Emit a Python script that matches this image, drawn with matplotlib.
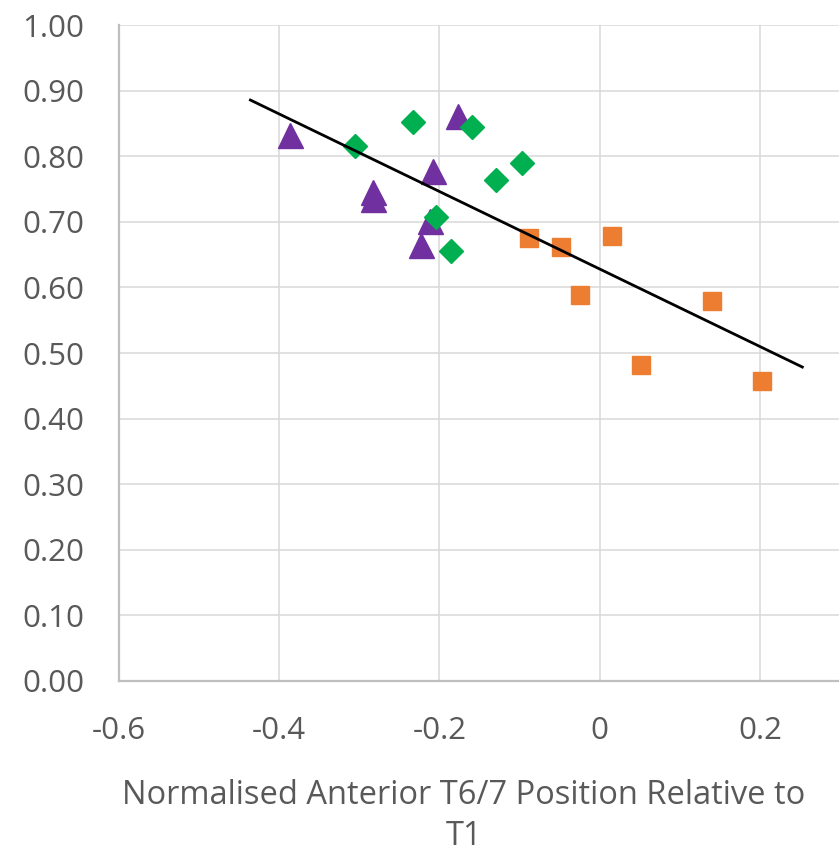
import numpy as np
import matplotlib
matplotlib.use("Agg")
import matplotlib.pyplot as plt
from matplotlib.ticker import FuncFormatter

# Data
tri_x = [-0.386, -0.177, -0.208, -0.283, -0.283, -0.212, -0.223]
tri_y = [0.832, 0.861, 0.777, 0.746, 0.734, 0.701, 0.664]

dia_x = [-0.233, -0.159, -0.305, -0.097, -0.129, -0.204, -0.186]
dia_y = [0.852, 0.845, 0.815, 0.790, 0.763, 0.708, 0.655]

sq_x = [-0.088, -0.048, 0.015, -0.025, 0.140, 0.051, 0.203]
sq_y = [0.676, 0.661, 0.679, 0.588, 0.580, 0.481, 0.457]

x_ticks = [-0.6, -0.4, -0.2, 0.0, 0.2]
y_ticks = [round(0.1 * i, 2) for i in range(11)]
x_label = "Normalised Anterior T6/7 Position Relative to\nT1"

TEXT = "#595959"
plt.rcParams['font.family'] = ['Open Sans', 'DejaVu Sans']

fig = plt.figure(figsize=(8.39, 8.56), dpi=100)
ax = fig.add_axes([119/839, 1 - 681/856, 721/839, (681 - 25)/856])

ax.set_xlim(-0.6, 0.3)
ax.set_ylim(0, 1.0)
ax.set_xticks(x_ticks)
ax.set_yticks(y_ticks)
ax.xaxis.set_major_formatter(FuncFormatter(lambda v, p: "0" if abs(v) < 1e-9 else f"{v:g}"))
ax.yaxis.set_major_formatter(FuncFormatter(lambda v, p: f"{v:.2f}"))

ax.grid(True, color="#D9D9D9", linewidth=1.1, zorder=0)
ax.set_axisbelow(True)
for s in ["top", "right"]:
    ax.spines[s].set_visible(False)
for s in ["left", "bottom"]:
    ax.spines[s].set_color("#BFBFBF")
    ax.spines[s].set_linewidth(1.6)

ax.tick_params(axis="both", length=0, labelsize=22.5, labelcolor=TEXT)
ax.tick_params(axis="y", pad=25)
ax.tick_params(axis="x", pad=25)

ax.plot(tri_x, tri_y, linestyle="none", marker="^", markersize=18,
        color="#7030A0", zorder=3)
ax.plot(dia_x, dia_y, linestyle="none", marker="D", markersize=12.5,
        color="#00B050", zorder=4)
ax.plot(sq_x, sq_y, linestyle="none", marker="s", markersize=13.5,
        color="#ED7D31", zorder=5)

# Linear trend line over all points, extended 0.05 both ways
all_x = np.array(tri_x + dia_x + sq_x)
all_y = np.array(tri_y + dia_y + sq_y)
m, b = np.polyfit(all_x, all_y, 1)
tx = np.array([all_x.min() - 0.05, all_x.max() + 0.05])
ax.plot(tx, m * tx + b, color="black", linewidth=2.0, zorder=6)

ax.set_xlabel(x_label, fontsize=23.5, color=TEXT, linespacing=1.3)
ax.xaxis.set_label_coords((464 - 119) / 721, -0.15)
ax.xaxis.label.set_verticalalignment("top")

fig.savefig("out.png", dpi=100)
